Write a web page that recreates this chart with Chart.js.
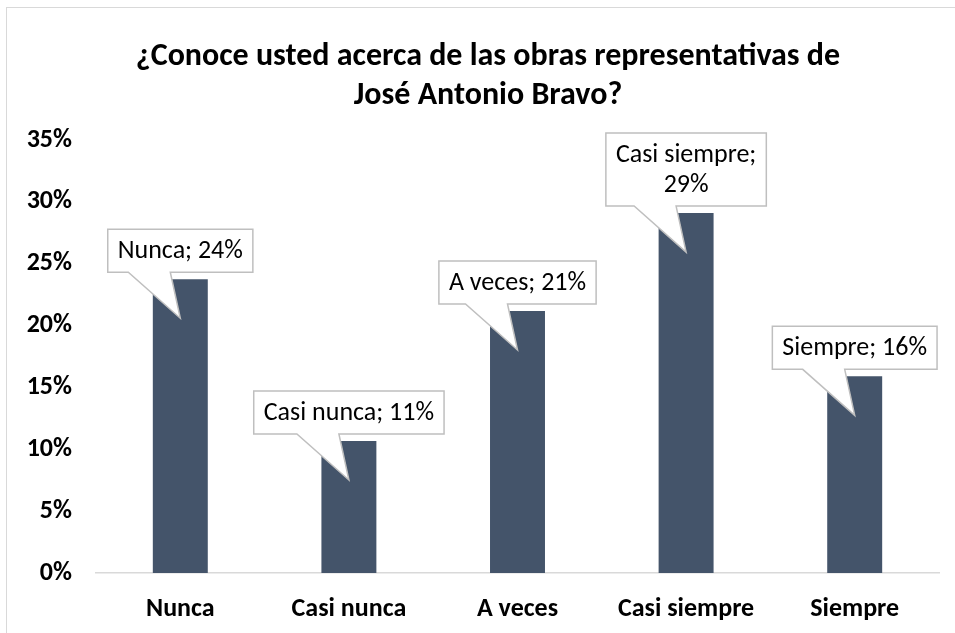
<!DOCTYPE html>
<html>
<head>
<meta charset="utf-8">
<script src="https://cdn.jsdelivr.net/npm/chart.js@4.4.1/dist/chart.umd.min.js"></script>
<style>
  html, body { margin: 0; padding: 0; background: #fff; overflow: hidden; }
  #wrap { position: relative; width: 955px; height: 633px; }
  #frame {
    position: absolute; left: 6px; top: 7px; width: 1000px; height: 700px;
    border: 1px solid #d9d9d9; box-sizing: border-box;
  }
  #chart { position: absolute; left: 0; top: 0; }
</style>
</head>
<body>
<div id="wrap">
  <div id="frame"></div>
  <canvas id="chart" width="955" height="633"></canvas>
</div>
<script>
// ---- data ----
const categories = ['Nunca', 'Casi nunca', 'A veces', 'Casi siempre', 'Siempre'];
const shares = [0.2375, 0.1067, 0.2118, 0.291, 0.159];
const yTicks = [0, 0.05, 0.1, 0.15, 0.2, 0.25, 0.3, 0.35];
const titleLines = [
  '¿Conoce usted acerca de las obras representativas de',
  'José Antonio Bravo?',
];

const FONT = 'Carlito, Calibri, Lato, "Noto Sans", sans-serif';
const BAR_COLOR = '#44546a';
const pct = (v) => Math.round(v * 100) + '%';

// callout boxes above each bar, pointing into it
function calloutLines(text) {
  if (text.length <= 16) return [text];
  const cut = text.indexOf(' ', text.indexOf(';'));
  return [text.slice(0, cut), text.slice(cut + 1)];
}

const calloutPlugin = {
  id: 'callouts',
  afterLayout(chart) {
    // title is centred over the whole (wider) chart frame, not the canvas
    if (chart.titleBlock) chart.titleBlock.left = 37;
  },
  afterDatasetsDraw(chart) {
    const ctx = chart.ctx;
    const meta = chart.getDatasetMeta(0);
    ctx.save();
    ctx.font = '26px ' + FONT;
    ctx.textAlign = 'center';
    ctx.textBaseline = 'middle';
    meta.data.forEach((bar, i) => {
      const lines = calloutLines(categories[i] + '; ' + pct(shares[i]));
      const lineH = 30;
      const textW = Math.max(...lines.map((l) => ctx.measureText(l).width));
      const w = textW + 20;
      const h = lines.length * lineH + 13;
      const cx = bar.x;
      const bottom = bar.y - 7;
      const top = bottom - h;
      const left = cx - w / 2;
      const right = cx + w / 2;
      const tipY = bar.y + 39;

      ctx.beginPath();
      ctx.moveTo(left, top);
      ctx.lineTo(right, top);
      ctx.lineTo(right, bottom);
      ctx.lineTo(cx - 10, bottom);
      ctx.lineTo(cx, tipY);
      ctx.lineTo(cx - 52, bottom);
      ctx.lineTo(left, bottom);
      ctx.closePath();
      ctx.fillStyle = '#ffffff';
      ctx.fill();
      ctx.strokeStyle = '#bfbfbf';
      ctx.lineWidth = 1.5;
      ctx.stroke();

      ctx.fillStyle = '#000000';
      lines.forEach((l, k) => {
        ctx.fillText(l, cx, top + 7 + lineH * k + lineH / 2);
      });
    });
    ctx.restore();
  },
};

new Chart(document.getElementById('chart'), {
  type: 'bar',
  data: {
    labels: categories,
    datasets: [
      {
        data: shares,
        backgroundColor: BAR_COLOR,
        borderWidth: 0,
        barPercentage: 0.326,
        categoryPercentage: 1,
      },
    ],
  },
  options: {
    responsive: false,
    animation: false,
    events: [],
    layout: { padding: { left: 10, right: 16, top: 0, bottom: 0 } },
    plugins: {
      legend: { display: false },
      tooltip: { enabled: false },
      title: {
        display: true,
        text: titleLines,
        color: '#000',
        font: { family: FONT, size: 32, weight: 'bold', lineHeight: 1.22 },
        padding: { top: 37, bottom: 25 },
      },
    },
    scales: {
      x: {
        grid: { display: false, drawTicks: false },
        border: { display: true, color: '#d9d9d9', width: 1.5 },
        ticks: {
          color: '#000',
          padding: 21,
          font: { family: FONT, size: 26, weight: 'bold' },
        },
        afterFit: (s) => { s.height = 60; },
      },
      y: {
        min: 0,
        max: 0.35,
        grid: { display: false, drawTicks: false },
        border: { display: false },
        afterBuildTicks: (s) => { s.ticks = yTicks.map((v) => ({ value: v })); },
        ticks: {
          color: '#000',
          padding: 24,
          font: { family: FONT, size: 26, weight: 'bold' },
          callback: (v) => pct(v),
        },
        afterFit: (s) => { s.width = 86; },
      },
    },
  },
  plugins: [calloutPlugin],
});
</script>
</body>
</html>
